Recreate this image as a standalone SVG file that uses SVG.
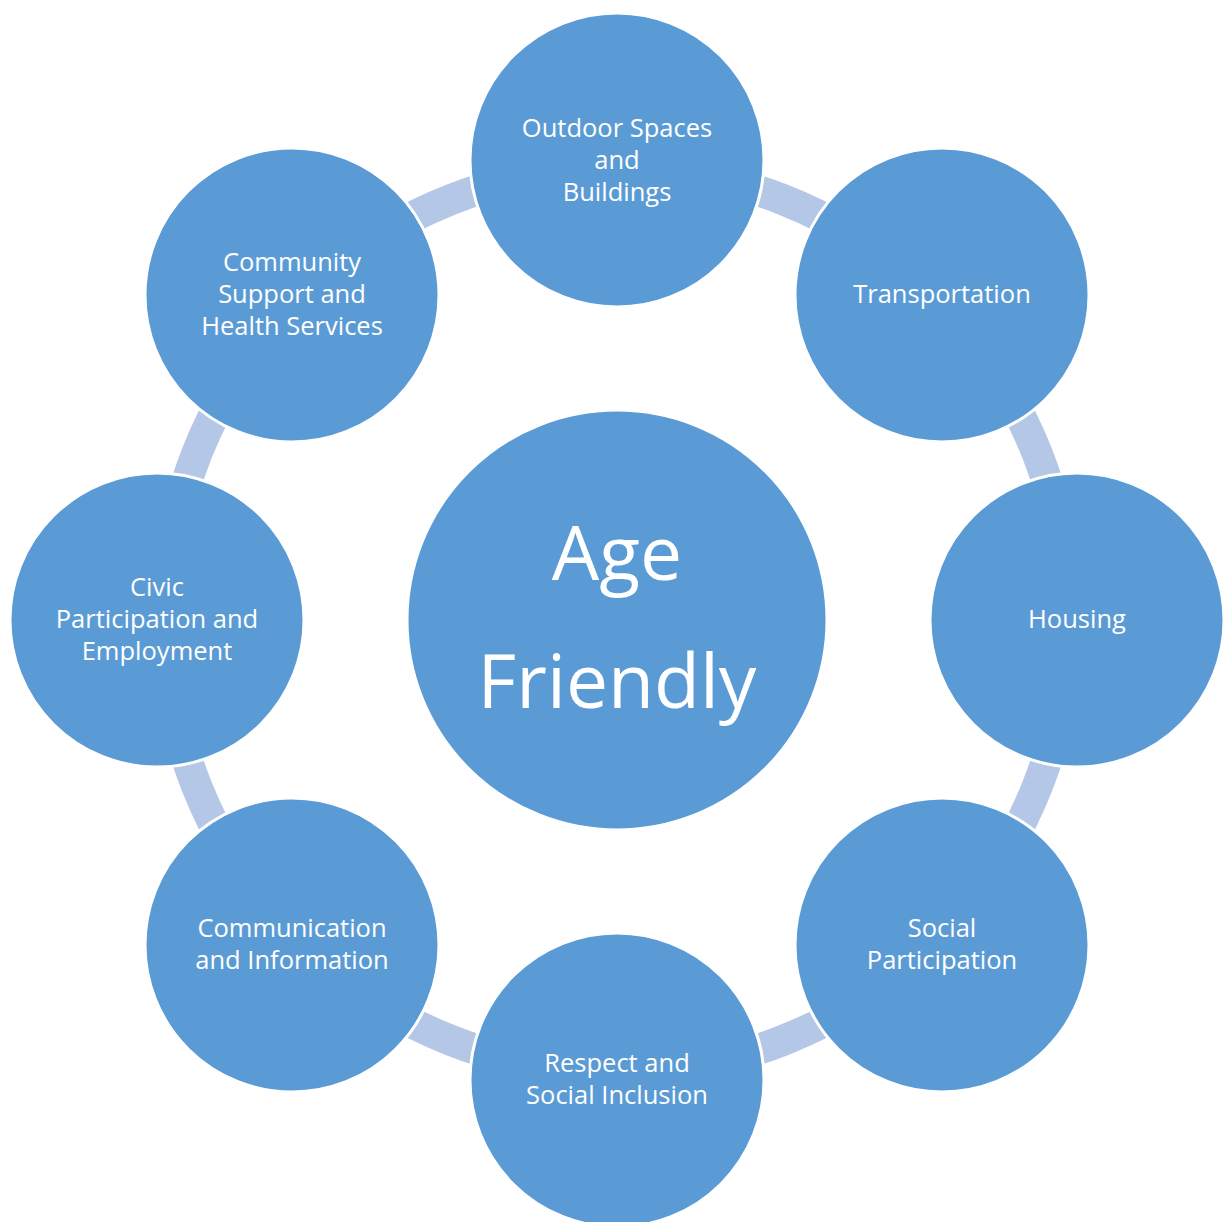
<svg xmlns="http://www.w3.org/2000/svg" width="1231" height="1222" viewBox="0 0 1231 1222">
<style>
.node{fill:#5B9BD5;stroke:#FFFFFF;stroke-width:3}
.lbl{fill:#FFFFFF;font-family:"Open Sans","Noto Sans","Liberation Sans",sans-serif;font-size:25.5px;text-anchor:middle}
.big{fill:#FFFFFF;font-family:"Open Sans","Noto Sans","Liberation Sans",sans-serif;font-size:75px;text-anchor:middle}
.ring{fill:none;stroke:#B4C7E7;stroke-width:31}
</style>
<rect width="1231" height="1222" fill="#FFFFFF"/>
<g id="connectors">
<circle class="ring" cx="617" cy="620" r="452"/>
</g>
<g id="center">
<circle class="node" cx="617" cy="620" r="210"/>
<text class="big" x="617" y="580">Age</text>
<text class="big" x="617" y="708">Friendly</text>
</g>
<g id="outdoor">
<circle class="node" cx="617" cy="160" r="147"/>
<text class="lbl" x="617" y="137">Outdoor Spaces</text>
<text class="lbl" x="617" y="169">and</text>
<text class="lbl" x="617" y="201">Buildings</text>
</g>
<g id="transportation">
<circle class="node" cx="942" cy="295" r="147"/>
<text class="lbl" x="942" y="303">Transportation</text>
</g>
<g id="housing">
<circle class="node" cx="1077" cy="620" r="147"/>
<text class="lbl" x="1077" y="628">Housing</text>
</g>
<g id="social">
<circle class="node" cx="942" cy="945" r="147"/>
<text class="lbl" x="942" y="937">Social</text>
<text class="lbl" x="942" y="969">Participation</text>
</g>
<g id="respect">
<circle class="node" cx="617" cy="1080" r="147"/>
<text class="lbl" x="617" y="1072">Respect and</text>
<text class="lbl" x="617" y="1104">Social Inclusion</text>
</g>
<g id="communication">
<circle class="node" cx="292" cy="945" r="147"/>
<text class="lbl" x="292" y="937">Communication</text>
<text class="lbl" x="292" y="969">and Information</text>
</g>
<g id="civic">
<circle class="node" cx="157" cy="620" r="147"/>
<text class="lbl" x="157" y="596">Civic</text>
<text class="lbl" x="157" y="628">Participation and</text>
<text class="lbl" x="157" y="660">Employment</text>
</g>
<g id="community">
<circle class="node" cx="292" cy="295" r="147"/>
<text class="lbl" x="292" y="271">Community</text>
<text class="lbl" x="292" y="303">Support and</text>
<text class="lbl" x="292" y="335">Health Services</text>
</g>
</svg>
